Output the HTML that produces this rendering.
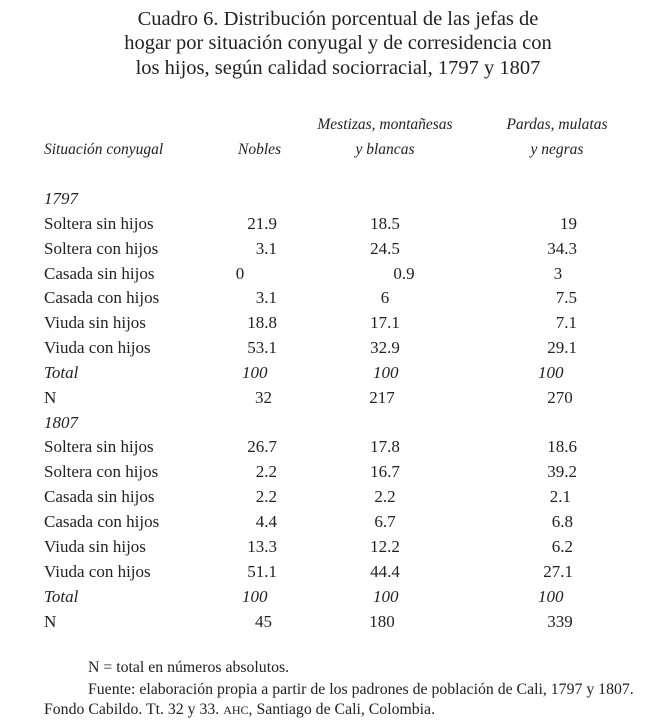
<!DOCTYPE html><html><head><meta charset="utf-8"><style>
body{margin:0;width:649px;height:723px;background:#fff;position:relative;font-family:"Liberation Serif",serif;color:#222;overflow:hidden}
div{position:absolute;white-space:nowrap;line-height:1}
.t{font-size:20.5px;left:0;width:676px;text-align:center}
.l{left:44px;font-size:17px}
.i{font-style:italic}
.h{font-size:15.5px;font-style:italic}
.a{font-size:17px;width:60px;text-align:right}
.c{font-size:17px;width:80px;text-align:center}
.f{font-size:15.8px}
</style></head><body>
<div class="t" style="top:9px">Cuadro 6. Distribución porcentual de las jefas de</div>
<div class="t" style="top:33px">hogar por situación conyugal y de corresidencia con</div>
<div class="t" style="top:58px">los hijos, según calidad sociorracial, 1797 y 1807</div>
<div class="h" style="left:44px;top:142px">Situación conyugal</div>
<div class="h" style="left:238px;top:142px">Nobles</div>
<div class="h" style="left:305px;width:160px;text-align:center;top:117px">Mestizas, montañesas</div>
<div class="h" style="left:305px;width:160px;text-align:center;top:142px">y blancas</div>
<div class="h" style="left:487px;width:140px;text-align:center;top:117px">Pardas, mulatas</div>
<div class="h" style="left:487px;width:140px;text-align:center;top:142px">y negras</div>

<div class="l i" style="top:190px">1797</div>
<div class="l" style="top:215px">Soltera sin hijos</div><div class="a" style="left:217px;top:215px">21.9</div><div class="c" style="left:345px;top:215px">18.5</div><div class="a" style="left:517px;top:215px">19</div>
<div class="l" style="top:240px">Soltera con hijos</div><div class="a" style="left:217px;top:240px">3.1</div><div class="c" style="left:345px;top:240px">24.5</div><div class="a" style="left:517px;top:240px">34.3</div>
<div class="l" style="top:265px">Casada sin hijos</div><div class="c" style="left:200px;top:265px">0</div><div class="c" style="left:364px;top:265px">0.9</div><div class="c" style="left:518px;top:265px">3</div>
<div class="l" style="top:289px">Casada con hijos</div><div class="a" style="left:217px;top:289px">3.1</div><div class="c" style="left:345px;top:289px">6</div><div class="a" style="left:517px;top:289px">7.5</div>
<div class="l" style="top:314px">Viuda sin hijos</div><div class="a" style="left:217px;top:314px">18.8</div><div class="c" style="left:345px;top:314px">17.1</div><div class="a" style="left:517px;top:314px">7.1</div>
<div class="l" style="top:339px">Viuda con hijos</div><div class="a" style="left:217px;top:339px">53.1</div><div class="c" style="left:345px;top:339px">32.9</div><div class="a" style="left:517px;top:339px">29.1</div>
<div class="l i" style="top:364px">Total</div><div class="l i" style="left:242px;top:364px">100</div><div class="l i" style="left:373px;top:364px">100</div><div class="l i" style="left:538px;top:364px">100</div>
<div class="l" style="top:389px">N</div><div class="a" style="left:212px;top:389px">32</div><div class="c" style="left:342px;top:389px">217</div><div class="c" style="left:520px;top:389px">270</div>

<div class="l i" style="top:414px">1807</div>
<div class="l" style="top:438px">Soltera sin hijos</div><div class="a" style="left:217px;top:438px">26.7</div><div class="c" style="left:345px;top:438px">17.8</div><div class="a" style="left:517px;top:438px">18.6</div>
<div class="l" style="top:463px">Soltera con hijos</div><div class="a" style="left:217px;top:463px">2.2</div><div class="c" style="left:345px;top:463px">16.7</div><div class="a" style="left:517px;top:463px">39.2</div>
<div class="l" style="top:488px">Casada sin hijos</div><div class="a" style="left:217px;top:488px">2.2</div><div class="c" style="left:345px;top:488px">2.2</div><div class="a" style="left:511px;top:488px">2.1</div>
<div class="l" style="top:513px">Casada con hijos</div><div class="a" style="left:217px;top:513px">4.4</div><div class="c" style="left:345px;top:513px">6.7</div><div class="a" style="left:513px;top:513px">6.8</div>
<div class="l" style="top:538px">Viuda sin hijos</div><div class="a" style="left:217px;top:538px">13.3</div><div class="c" style="left:345px;top:538px">12.2</div><div class="a" style="left:513px;top:538px">6.2</div>
<div class="l" style="top:563px">Viuda con hijos</div><div class="a" style="left:217px;top:563px">51.1</div><div class="c" style="left:345px;top:563px">44.4</div><div class="a" style="left:513px;top:563px">27.1</div>
<div class="l i" style="top:588px">Total</div><div class="l i" style="left:242px;top:588px">100</div><div class="l i" style="left:373px;top:588px">100</div><div class="l i" style="left:538px;top:588px">100</div>
<div class="l" style="top:613px">N</div><div class="a" style="left:212px;top:613px">45</div><div class="c" style="left:342px;top:613px">180</div><div class="c" style="left:520px;top:613px">339</div>

<div class="f" style="left:88px;top:660px">N = total en números absolutos.</div>
<div class="f" style="left:88px;top:682px">Fuente: elaboración propia a partir de los padrones de población de Cali, 1797 y 1807.</div>
<div class="f" style="left:44px;top:702px">Fondo Cabildo. Tt. 32 y 33. <span style="font-size:12px">AHC</span>, Santiago de Cali, Colombia.</div>
</body></html>
